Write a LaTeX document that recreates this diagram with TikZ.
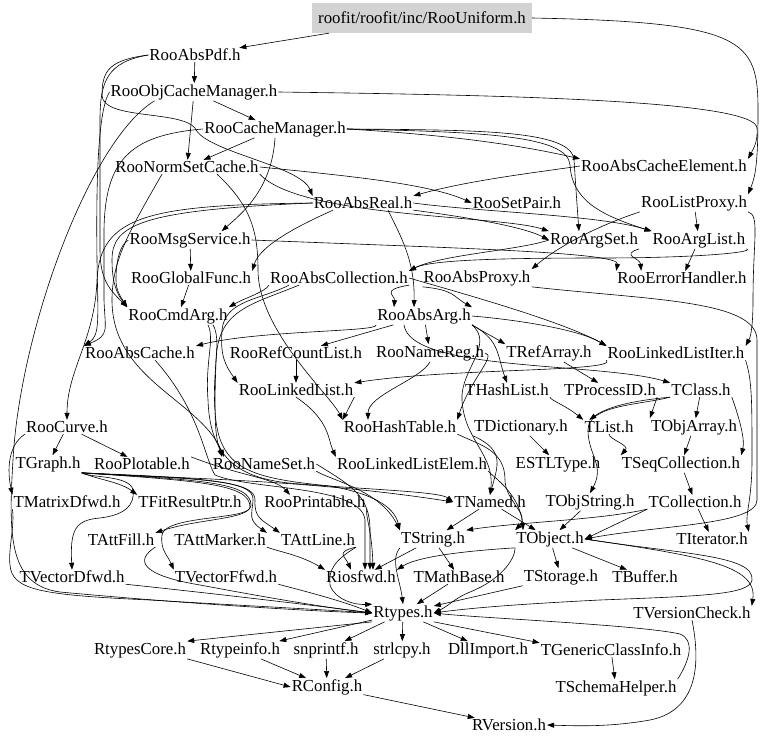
\documentclass[tikz,border=0pt]{standalone}
\usepackage{fontspec}
\setmainfont{Liberation Serif}
\usetikzlibrary{arrows.meta}
\definecolor{boxgray}{RGB}{211,211,211}
\begin{document}
\begin{tikzpicture}[x = 1pt, y = -1pt,
    file/.style = {font = \fontsize{16.8}{18}\selectfont, inner sep = 1pt},
    inc/.style  = {-{Triangle[length = 7pt, width = 5pt]}, line width = 0.6pt}]

    \useasboundingbox (0, 0) rectangle (768, 744);

    % root file
    \node [file, fill = boxgray, inner xsep = 6pt, minimum height = 30pt] (uni) at (422, 18) {roofit/roofit/inc/RooUniform.h};

    % roofit headers
    \node [file] (abspdf)    at (195, 55)  {RooAbsPdf.h};
    \node [file] (objcm)     at (194, 92)  {RooObjCacheManager.h};
    \node [file] (cachem)    at (275, 129) {RooCacheManager.h};
    \node [file] (normsc)    at (187, 167) {RooNormSetCache.h};
    \node [file] (cacheel)   at (664, 166) {RooAbsCacheElement.h};
    \node [file] (absreal)   at (363, 203) {RooAbsReal.h};
    \node [file] (setpair)   at (517, 203) {RooSetPair.h};
    \node [file] (listproxy) at (694, 203) {RooListProxy.h};
    \node [file] (msgsvc)    at (190, 240) {RooMsgService.h};
    \node [file] (argset)    at (594, 240) {RooArgSet.h};
    \node [file] (arglist)   at (699, 240) {RooArgList.h};
    \node [file] (globfn)    at (191, 278) {RooGlobalFunc.h};
    \node [file] (abscoll)   at (339, 278) {RooAbsCollection.h};
    \node [file] (absproxy)  at (477, 278) {RooAbsProxy.h};
    \node [file] (errh)      at (682, 278) {RooErrorHandler.h};
    \node [file] (cmdarg)    at (178, 316) {RooCmdArg.h};
    \node [file] (absarg)    at (424, 316) {RooAbsArg.h};
    \node [file] (abscache)  at (140, 353) {RooAbsCache.h};
    \node [file] (refcl)     at (296, 353) {RooRefCountList.h};
    \node [file] (namereg)   at (430, 353) {RooNameReg.h};
    \node [file] (refarr)    at (549, 353) {TRefArray.h};
    \node [file] (lliter)    at (676, 353) {RooLinkedListIter.h};
    \node [file] (linkl)     at (296, 390) {RooLinkedList.h};
    \node [file] (hashl)     at (507, 390) {THashList.h};
    \node [file] (procid)    at (610, 390) {TProcessID.h};
    \node [file] (tclass)    at (701, 390) {TClass.h};
    \node [file] (curve)     at (67, 427)  {RooCurve.h};
    \node [file] (hasht)     at (400, 427) {RooHashTable.h};
    \node [file] (tdict)     at (521, 427) {TDictionary.h};
    \node [file] (tlist)     at (609, 427) {TList.h};
    \node [file] (objarr)    at (694, 427) {TObjArray.h};
    \node [file] (tgraph)    at (48, 464)  {TGraph.h};
    \node [file] (plotable)  at (142, 464) {RooPlotable.h};
    \node [file] (nameset)   at (264, 464) {RooNameSet.h};
    \node [file] (llelem)    at (412, 464) {RooLinkedListElem.h};
    \node [file] (estl)      at (558, 464) {ESTLType.h};
    \node [file] (seqcoll)   at (681, 464) {TSeqCollection.h};

    % core headers
    \node [file] (matd)      at (67, 502)  {TMatrixDfwd.h};
    \node [file] (fitres)    at (190, 502) {TFitResultPtr.h};
    \node [file] (printable) at (315, 502) {RooPrintable.h};
    \node [file] (tnamed)    at (490, 502) {TNamed.h};
    \node [file] (objstr)    at (590, 502) {TObjString.h};
    \node [file] (tcoll)     at (695, 502) {TCollection.h};
    \node [file] (attfill)   at (121, 540) {TAttFill.h};
    \node [file] (attmarker) at (220, 540) {TAttMarker.h};
    \node [file] (attline)   at (318, 540) {TAttLine.h};
    \node [file] (tstring)   at (433, 539) {TString.h};
    \node [file] (tobject)   at (550, 539) {TObject.h};
    \node [file] (titer)     at (712, 539) {TIterator.h};
    \node [file] (vecd)      at (72, 577)  {TVectorDfwd.h};
    \node [file] (vecf)      at (226, 577) {TVectorFfwd.h};
    \node [file] (iosfwd)    at (361, 577) {Riosfwd.h};
    \node [file] (mathbase)  at (459, 577) {TMathBase.h};
    \node [file] (tstorage)  at (561, 577) {TStorage.h};
    \node [file] (tbuffer)   at (645, 577) {TBuffer.h};
    \node [file] (rtypes)    at (403, 613) {Rtypes.h};
    \node [file] (vcheck)    at (692, 613) {TVersionCheck.h};
    \node [file] (rtcore)    at (140, 650) {RtypesCore.h};
    \node [file] (rtinfo)    at (240, 650) {Rtypeinfo.h};
    \node [file] (snprintf)  at (326, 650) {snprintf.h};
    \node [file] (strlcpy)   at (402, 650) {strlcpy.h};
    \node [file] (dllimp)    at (488, 650) {DllImport.h};
    \node [file] (tgci)      at (611, 650) {TGenericClassInfo.h};
    \node [file] (rconfig)   at (327, 687) {RConfig.h};
    \node [file] (schema)    at (616, 688) {TSchemaHelper.h};
    \node [file] (rversion)  at (509, 725) {RVersion.h};

    % top
    \draw [inc] (uni) -- (abspdf);
    \draw [inc] (uni.east) .. controls (745, 22) and (758, 40) .. (758, 110)
        .. controls (758, 160) and (756, 175) .. (listproxy.north east);
    \draw [inc] (abspdf) -- (objcm);
    \draw [inc] (abspdf.west) .. controls (110, 60) and (102, 70) .. (102, 95)
        .. controls (102, 120) and (180, 110) .. (195, 128)
        .. controls (205, 152) and (300, 165) .. (absreal.north west);
    \draw [inc] (abspdf.west) .. controls (108, 62) and (100, 80) .. (100, 120) -- (100, 250)
        .. controls (100, 280) and (110, 290) .. (cmdarg.north west);

    % object cache manager
    \draw [inc] (objcm) -- (cachem);
    \draw [inc] (objcm) -- (normsc);
    \draw [inc] (objcm.east) .. controls (500, 95) and (755, 100) .. (757, 128)
        .. controls (758, 140) and (754, 148) .. (cacheel.north east);
    \draw [inc] ([xshift = 45pt]objcm.south west) .. controls (90, 140) and (20, 330) .. (13, 460)
        .. controls (8, 540) and (10, 585) .. (60, 592)
        .. controls (200, 605) and (330, 612) .. (rtypes.west);
    \draw [inc] (objcm.west) .. controls (98, 110) and (96, 180) .. (97, 260)
        .. controls (98, 320) and (100, 335) .. (abscache.north west);

    % cache manager
    \draw [inc] (cachem) -- (normsc);
    \draw [inc] (cachem.south) .. controls (272, 190) and (240, 215) .. ([xshift = -30pt]msgsvc.north east);
    \draw [inc] (cachem.east) .. controls (450, 135) and (520, 145) .. (cacheel.north west);
    \draw [inc] (cachem.east) .. controls (480, 130) and (572, 130) .. (574, 160)
        .. controls (576, 190) and (577, 205) .. ([xshift = -15pt]argset.north);
    \draw [inc] (cachem.east) .. controls (480, 132) and (568, 135) .. (570, 165)
        .. controls (572, 200) and (600, 215) .. (arglist.north west);
    \draw [inc] (cachem.west) .. controls (130, 135) and (105, 160) .. (104, 230) -- (104, 300)
        .. controls (105, 330) and (110, 335) .. (abscache.north west);

    % norm set cache
    \draw [inc] (normsc.east) .. controls (350, 176) and (430, 184) .. (setpair.west);
    \draw [inc] ([xshift = -25pt]normsc.south) .. controls (130, 230) and (112, 260) .. (112, 300)
        .. controls (112, 380) and (200, 400) .. ([xshift = -40pt]nameset.north);
    \draw [inc] ([xshift = 30pt]normsc.south) .. controls (250, 205) and (258, 230) .. (258, 270)
        .. controls (258, 330) and (330, 395) .. (hasht.north west);
    \draw [inc] (normsc.south east) .. controls (300, 218) and (500, 215) .. (argset.north west);

    % abs real
    \draw [inc] (absreal.west) .. controls (150, 205) and (100, 215) .. (97, 280)
        .. controls (95, 340) and (67, 370) .. (curve.north);
    \draw [inc] ([xshift = -30pt]absreal.south) .. controls (300, 225) and (260, 245) .. (globfn.north east);
    \draw [inc] (absreal.west) .. controls (140, 210) and (112, 225) .. (112, 260)
        .. controls (112, 285) and (118, 295) .. (cmdarg.north west);
    \draw [inc] (absreal.south east) .. controls (450, 215) and (520, 225) .. (argset.west);
    \draw [inc] (absreal.east) .. controls (480, 212) and (600, 215) .. (arglist.north west);
    \draw [inc] ([xshift = 25pt]absreal.south) .. controls (400, 235) and (415, 260) .. ([xshift = -10pt]absarg.north);
    \draw [inc] (cacheel.west) .. controls (540, 172) and (470, 180) .. (absreal.north east);

    % message service, global func
    \draw [inc] (msgsvc) -- (globfn);
    \draw [inc] (msgsvc.west) .. controls (120, 245) and (116, 260) .. (116, 280)
        .. controls (116, 290) and (120, 296) .. (cmdarg.north west);
    \draw [inc] (msgsvc.east) .. controls (450, 248) and (620, 252) .. (errh.north west);
    \draw [inc] (globfn) -- (cmdarg);

    % collections and proxies
    \draw [inc] (abscoll.south west) .. controls (265, 292) and (245, 298) .. (cmdarg.north east);
    \draw [inc] ([xshift = -50pt]abscoll.south) .. controls (260, 300) and (225, 300) .. (222, 330)
        .. controls (220, 355) and (225, 365) .. (linkl.north west);
    \draw [inc] ([xshift = -40pt]abscoll.south) .. controls (250, 305) and (218, 310) .. (216, 360)
        .. controls (214, 420) and (215, 435) .. ([xshift = -42pt]nameset.north);
    \draw [inc] (abscoll.south east) .. controls (380, 290) and (395, 295) .. ([xshift = -30pt]absarg.north);
    \draw [inc] (abscoll.east) .. controls (450, 290) and (560, 320) .. (lliter.north west);
    \draw [inc] (absproxy.south west) .. controls (455, 290) and (452, 296) .. (absarg.north east);
    \draw [inc] (absproxy.south east) .. controls (650, 300) and (757, 300) .. (757, 340) -- (757, 500)
        .. controls (757, 525) and (660, 525) .. (tobject.east);
    \draw [inc] (argset.west) .. controls (520, 250) and (440, 255) .. (abscoll.north east);
    \draw [inc] (argset.south east) .. controls (620, 255) and (640, 258) .. ([xshift = 25pt]errh.north west);
    \draw [inc] (arglist) -- (errh);
    \draw [inc] (arglist.south east) .. controls (756, 252) and (700, 258) .. (600, 258)
        .. controls (500, 258) and (430, 260) .. (abscoll.north east);
    \draw [inc] (listproxy) -- (arglist);
    \draw [inc] (listproxy.south west) .. controls (600, 225) and (560, 245) .. (absproxy.north east);
    \draw [inc] (listproxy.south east) .. controls (760, 215) and (753, 240) .. (753, 300)
        .. controls (753, 330) and (750, 338) .. (lliter.north east);

    % abs arg
    \draw [inc] (absarg.south west) .. controls (380, 332) and (260, 330) .. (abscache.north east);
    \draw [inc] (absarg) -- (refcl);
    \draw [inc] (absarg) -- (namereg);
    \draw [inc] (absarg.south east) .. controls (480, 330) and (490, 335) .. (refarr.north west);
    \draw [inc] (absarg.east) .. controls (520, 320) and (580, 330) .. (lliter.north west);
    \draw [inc] (absarg.south east) .. controls (500, 340) and (497, 355) .. (hashl.north);
    \draw [inc] (absarg.south east) .. controls (495, 345) and (460, 370) .. (462, 400)
        .. controls (464, 440) and (495, 455) .. (tnamed.north);
    \draw [inc] ([xshift = -20pt]absarg.south) .. controls (410, 372) and (600, 362) .. (tclass.north west);

    % linked lists
    \draw [inc] (refcl) -- (linkl);
    \draw [inc] (lliter.south west) .. controls (620, 372) and (450, 368) .. (linkl.north east);
    \draw [inc] (namereg.south) .. controls (420, 380) and (368, 395) .. ([xshift = -32pt]hasht.north);
    \draw [inc] (namereg.east) .. controls (497, 355) and (470, 380) .. (hasht.north east);
    \draw [inc] (linkl.south east) -- (hasht.north west);
    \draw [inc] (linkl.south) .. controls (330, 420) and (328, 440) .. (llelem.north west);
    \draw [inc] (lliter.south east) .. controls (752, 380) and (752, 400) .. (752, 460)
        .. controls (752, 500) and (745, 515) .. (titer.north east);
    \draw [inc] (hasht.south east) .. controls (480, 445) and (505, 450) .. (505, 480)
        .. controls (505, 500) and (530, 515) .. (tobject.north west);
    \draw [inc] (llelem.south east) .. controls (495, 478) and (520, 495) .. ([xshift = 8pt]tobject.north west);

    % TClass and friends
    \draw [inc] (refarr) -- (procid);
    \draw [inc] (hashl.south east) .. controls (550, 400) and (565, 405) .. (tlist.north west);
    \draw [inc] (procid.south east) -- (objarr.north west);
    \draw [inc] (tclass.south west) .. controls (640, 400) and (610, 405) .. ([xshift = 6pt]tlist.north west);
    \draw [inc] (tclass) -- (objarr);
    \draw [inc] (tclass.south west) .. controls (640, 405) and (588, 405) .. (588, 430)
        .. controls (588, 455) and (605, 465) .. (objstr.north);
    \draw [inc] (tdict) -- (estl);
    \draw [inc] (tdict.south west) .. controls (505, 450) and (498, 465) .. (tnamed.north);
    \draw [inc] (tlist.south) .. controls (610, 440) and (630, 445) .. (seqcoll.north west);
    \draw [inc] (objarr) -- (seqcoll);
    \draw [inc] (tclass.south east) .. controls (740, 420) and (745, 440) .. (seqcoll.north east);
    \draw [inc] (seqcoll) -- (tcoll);
    \draw [inc] (tcoll) -- (titer);
    \draw [inc] (tcoll.south west) -- (tobject.east);
    \draw [inc] (tcoll.south west) .. controls (600, 520) and (520, 522) .. (tstring.north east);
    \draw [inc] (tnamed) -- (tstring);
    \draw [inc] (tnamed) -- (tobject);
    \draw [inc] (objstr) -- (tobject);

    % curve and graph
    \draw [inc] (curve) -- (tgraph);
    \draw [inc] (curve) -- (plotable);
    \draw [inc] (curve.south west) .. controls (8, 445) and (7, 470) .. (matd.north west);
    \draw [inc] (tgraph.south east) .. controls (90, 478) and (130, 475) .. (133, 490)
        .. controls (135, 505) and (125, 515) .. (100, 518)
        .. controls (75, 520) and (70, 530) .. (vecd.north);
    \draw [inc] (tgraph.south east) .. controls (100, 480) and (120, 482) .. (fitres.north west);
    \draw [inc] (tgraph.south east) .. controls (150, 478) and (300, 478) .. (tnamed.west);
    \draw [inc] (tgraph.south east) .. controls (200, 478) and (255, 480) .. (253, 500)
        .. controls (252, 515) and (248, 520) .. (attmarker.north east);
    \draw [inc] (tgraph.south east) .. controls (200, 479) and (256, 480) .. (255, 500)
        .. controls (254, 518) and (262, 520) .. (attline.north west);
    \draw [inc] (tgraph.south east) .. controls (200, 480) and (251, 482) .. (251, 505)
        .. controls (250, 520) and (200, 518) .. (attfill.north east);
    \draw [inc] (tgraph.south east) .. controls (200, 481) and (250, 484) .. (250, 507)
        .. controls (250, 520) and (165, 515) .. (162, 535)
        .. controls (160, 550) and (168, 556) .. (vecf.north west);

    % bundle from the left
    \draw [inc] ([xshift = 15pt]abscache.south) .. controls (200, 410) and (205, 460) .. (215, 475)
        .. controls (250, 490) and (362, 485) .. (365, 520) -- ([xshift = 4pt]iosfwd.north);
    \draw [inc] ([xshift = 30pt]cmdarg.south) .. controls (215, 340) and (205, 360) .. (208, 400)
        .. controls (210, 460) and (240, 480) .. (300, 484)
        .. controls (380, 490) and (440, 492) .. (tnamed.west);
    \draw [inc] ([xshift = 35pt]cmdarg.south) .. controls (222, 340) and (212, 370) .. (215, 410)
        .. controls (218, 470) and (250, 478) .. (330, 486)
        .. controls (380, 495) and (395, 510) .. (tstring.north west);
    \draw [inc] (nameset.south east) .. controls (330, 480) and (380, 490) .. (tstring.north west);
    \draw [inc] (nameset.east) .. controls (350, 485) and (370, 495) .. (370, 530) -- ([xshift = 9pt]iosfwd.north);

    % printable and attributes
    \draw [inc] (plotable.north east) .. controls (240, 476) and (275, 478) .. ([xshift = -25pt]printable.north);
    \draw [inc] (printable.south east) .. controls (365, 515) and (372, 530) .. ([xshift = 12pt]iosfwd.north);
    \draw [inc] (attmarker.south east) .. controls (280, 552) and (300, 555) .. (iosfwd.north west);
    \draw [inc] (attline.south east) .. controls (335, 552) and (345, 556) .. ([xshift = -10pt]iosfwd.north);
    \draw [inc] (attline.south east) .. controls (335, 560) and (328, 570) .. (330, 585)
        .. controls (335, 600) and (355, 605) .. (rtypes.north west);
    \draw [inc] (attfill.south east) .. controls (135, 560) and (140, 575) .. (200, 585)
        .. controls (280, 600) and (330, 608) .. (rtypes.west);
    \draw [inc] (vecd.south east) .. controls (200, 592) and (320, 606) .. (rtypes.west);
    \draw [inc] (vecf.south east) .. controls (300, 590) and (340, 600) .. (rtypes.west);
    \draw [inc] (matd.south west) .. controls (15, 525) and (8, 550) .. (10, 565)
        .. controls (12, 590) and (40, 595) .. (150, 600)
        .. controls (250, 606) and (330, 610) .. (rtypes.west);

    % TObject and TString
    \draw [inc] (tstring.south west) .. controls (390, 560) and (400, 580) .. (rtypes.north);
    \draw [inc] (tstring) -- (iosfwd);
    \draw [inc] (tstring) -- (mathbase);
    \draw [inc] (tobject.south west) .. controls (480, 550) and (420, 555) .. (iosfwd.north east);
    \draw [inc] (tobject) -- (tstorage);
    \draw [inc] (tobject) -- (tbuffer);
    \draw [inc] (tobject.south west) .. controls (515, 560) and (500, 580) .. (470, 592)
        .. controls (455, 598) and (450, 605) .. (rtypes.east);
    \draw [inc] (tobject.east) .. controls (680, 554) and (755, 555) .. (752, 580)
        .. controls (750, 595) and (700, 596) .. (600, 600)
        .. controls (520, 604) and (470, 608) .. (rtypes.east);
    \draw [inc] (tobject.east) .. controls (700, 556) and (758, 565) .. (vcheck.north east);
    \draw [inc] (mathbase) -- (rtypes);
    \draw [inc] (tstorage) -- (rtypes);

    % Rtypes and below
    \draw [inc] (rtypes.south west) -- (rtcore.north east);
    \draw [inc] (rtypes) -- (rtinfo);
    \draw [inc] (rtypes) -- (snprintf);
    \draw [inc] (rtypes) -- (strlcpy);
    \draw [inc] (rtypes) -- (dllimp);
    \draw [inc] (rtypes.south east) -- (tgci.north west);
    \draw [inc] (rtcore.south east) -- (rconfig.west);
    \draw [inc] (rtinfo) -- (rconfig);
    \draw [inc] (snprintf) -- (rconfig);
    \draw [inc] (strlcpy) -- (rconfig);
    \draw [inc] (rconfig) -- (rversion);
    \draw [inc] (tgci) -- (schema);
    \draw [inc] (schema.north east) .. controls (690, 660) and (695, 640) .. (680, 634)
        .. controls (640, 625) and (480, 618) .. (rtypes.east);
    \draw [inc] (vcheck.south) .. controls (700, 660) and (700, 710) .. (650, 720)
        .. controls (610, 727) and (580, 726) .. (rversion.east);

\end{tikzpicture}
\end{document}
